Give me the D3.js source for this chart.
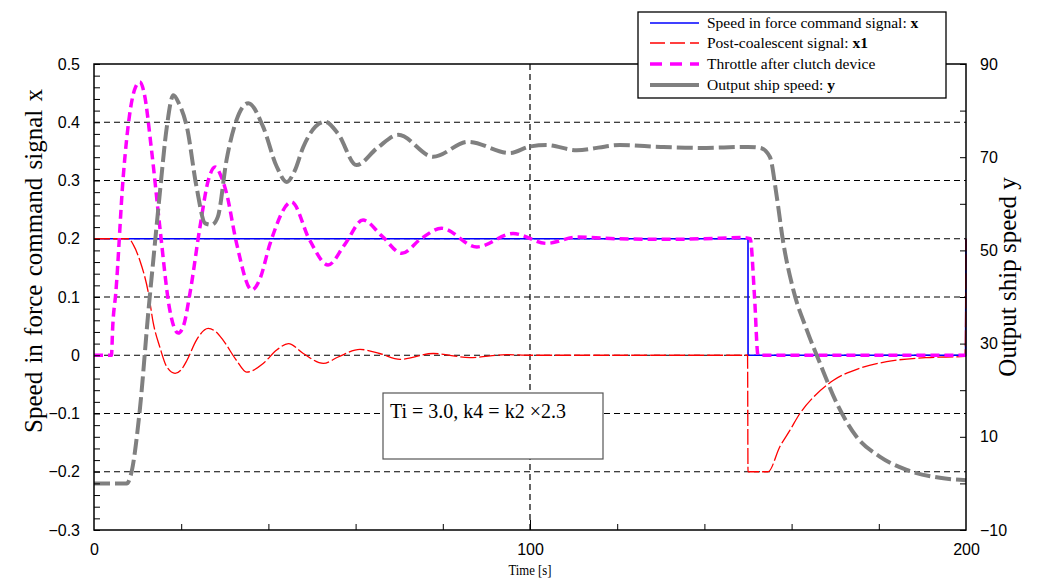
<!DOCTYPE html>
<html><head><meta charset="utf-8">
<script src="https://cdn.jsdelivr.net/npm/d3@7"></script>
<style>body{margin:0;background:#fff} svg{display:block}</style>
</head><body><svg id="c" width="1047" height="579"></svg>
<script>
// ---- data ----
const xTickLabels = [0, 100, 200];
const leftTickLabels = [-0.3, -0.2, -0.1, 0, 0.1, 0.2, 0.3, 0.4, 0.5];
const rightTickLabels = [-10, 10, 30, 50, 70, 90];
const gridLeft = [-0.2, -0.1, 0, 0.1, 0.2, 0.3, 0.4];
const seriesNames = ["Speed in force command signal: ", "Post-coalescent signal: ", "Throttle after clutch device", "Output ship speed: "];
const seriesBold = ["x", "x1", "", "y"];
const annotation = "Ti = 3.0, k4 = k2 \u00d72.3";

// Speed in force command signal x  [t, value] (left axis)
const cmdX = [[0,0.2],[150,0.2],[150.01,0],[199.9,0],[200,0.2]];
// Post-coalescent signal x1 (left axis)
const postX1 = [[0,0.2],[7.9,0.2],[9,0.19],[10.5,0.163],[12.5,0.106],[13.6,0.055],[15.1,0.014],[16.7,-0.02],[18.6,-0.031],[20,-0.025],[21.3,-0.009],[23.5,0.026],[26.2,0.046],[28,0.04],[29.6,0.026],[32.7,-0.009],[35,-0.029],[38.8,-0.014],[41.9,0.009],[44.6,0.02],[48,0.003],[52.6,-0.014],[56,-0.003],[61,0.01],[65.5,0.003],[70.2,-0.007],[77.8,0.003],[86.2,-0.004],[94.6,0.001],[100,0],[149.9,0],[150,-0.2],[154.6,-0.2],[157.3,-0.157],[159.6,-0.129],[161.9,-0.1],[165,-0.072],[169.6,-0.043],[175.7,-0.022],[181.8,-0.011],[191,-0.004],[199.8,-0.002],[200,0.2]];
// Throttle after clutch device (left axis)
const throttle = [[0,0],[4,0],[4.3,0.05],[5,0.107],[6.7,0.306],[8.3,0.42],[9.5,0.46],[10.5,0.469],[11.5,0.45],[13.2,0.352],[15.1,0.22],[17.4,0.077],[19.3,0.038],[20.5,0.05],[22,0.106],[24.3,0.22],[26.2,0.30],[27.8,0.323],[29,0.31],[30.4,0.278],[32.7,0.192],[36.2,0.112],[38,0.13],[40.4,0.192],[45.3,0.263],[49.5,0.197],[53.7,0.155],[57.5,0.19],[61.7,0.232],[66,0.205],[70.6,0.175],[75,0.2],[79.7,0.218],[87.8,0.186],[96.1,0.209],[103.8,0.192],[110.8,0.203],[120,0.2],[130,0.199],[140,0.2],[149,0.202],[150.5,0.2],[151.5,0.1],[152.3,0.0],[200,0]];
// Output ship speed y (right axis)
const shipY = [[0,0],[7.5,0],[8.5,2],[10.5,15.7],[12.5,37.2],[13.6,47.9],[15.1,62.3],[16.7,76.5],[18.2,83.3],[19.5,81.5],[21.3,76.5],[23.5,63.7],[25.5,55.8],[27,55.5],[28.4,57.2],[30.4,69.4],[32.7,78],[35.4,81.6],[38.8,76.5],[41.9,68],[44.2,64.7],[46,67],[48,72.2],[53,77.6],[56,75],[60.2,68.3],[65,72],[69.8,74.8],[77.8,70.1],[85.8,73.3],[95.4,70.9],[100,72.3],[103.8,72.6],[110.7,71.5],[120.6,72.6],[130,72.2],[139,72],[150,72.2],[152.8,72],[155,70.1],[156.6,61.5],[158,52.2],[160.4,41.5],[163.5,32.9],[166.5,25.8],[170.3,17.3],[174.9,10],[180.3,5.7],[186.4,2.9],[194,1.2],[200,0.7]];

// ---- chart ----
const svg = d3.select("#c");
const L = 94, R = 966, T = 64, B = 530;
const x = d3.scaleLinear().domain([0, 200]).range([L, R]);
const yL = d3.scaleLinear().domain([-0.3, 0.5]).range([B, T]);
const yR = d3.scaleLinear().domain([-10, 90]).range([B, T]);
const tickFont = "'Liberation Sans', Arial, sans-serif";
const serif = "'Liberation Serif', 'Times New Roman', serif";

// grid
svg.append("g").selectAll("line").data(gridLeft).join("line")
  .attr("x1", L).attr("x2", R).attr("y1", d => yL(d)).attr("y2", d => yL(d))
  .attr("stroke", "#000").attr("stroke-width", 1.2).attr("stroke-dasharray", "6,4");
svg.append("line").attr("x1", x(100)).attr("x2", x(100)).attr("y1", T).attr("y2", B)
  .attr("stroke", "#000").attr("stroke-width", 1.2).attr("stroke-dasharray", "6,4");

// series
const curve = d3.curveMonotoneX;
const lineL = d3.line().x(d => x(d[0])).y(d => yL(d[1])).curve(curve);
const lineR = d3.line().x(d => x(d[0])).y(d => yR(d[1])).curve(curve);
const lineStep = d3.line().x(d => x(d[0])).y(d => yL(d[1]));
svg.append("path").attr("d", lineStep(cmdX)).attr("fill", "none").attr("stroke", "#0000ff").attr("stroke-width", 1.6);
svg.append("path").attr("d", lineL(postX1)).attr("fill", "none").attr("stroke", "#ff0000").attr("stroke-width", 1.3).attr("stroke-dasharray", "16,3");
svg.append("path").attr("d", lineL(throttle)).attr("fill", "none").attr("stroke", "#ff00ff").attr("stroke-width", 3.5).attr("stroke-dasharray", "9,5");
svg.append("path").attr("d", lineR(shipY)).attr("fill", "none").attr("stroke", "#808080").attr("stroke-width", 4).attr("stroke-dasharray", "16,5");

// frame
svg.append("rect").attr("x", L).attr("y", T).attr("width", R - L).attr("height", B - T)
  .attr("fill", "none").attr("stroke", "#000").attr("stroke-width", 1.5);

// left axis: minor ticks inward + labels
svg.append("g").attr("transform", `translate(${L},0)`)
  .call(d3.axisRight(yL).tickValues(d3.range(-30, 51, 2).map(v => v / 100)).tickSize(6).tickFormat(""))
  .call(g => g.select(".domain").remove());
svg.append("g").attr("transform", `translate(${L},0)`)
  .call(d3.axisLeft(yL).tickValues(leftTickLabels).tickSize(0).tickPadding(14).tickFormat(d => d3.format("")(d).replace("-", "\u2212")))
  .call(g => g.select(".domain").remove())
  .selectAll("text").attr("font-family", tickFont).attr("font-size", 16).attr("fill", "#000");

// right axis
svg.append("g").attr("transform", `translate(${R},0)`)
  .call(d3.axisLeft(yR).tickValues(d3.range(-10, 91, 10)).tickSize(6).tickFormat(""))
  .call(g => g.select(".domain").remove());
svg.append("g").attr("transform", `translate(${R},0)`)
  .call(d3.axisRight(yR).tickValues(rightTickLabels).tickSize(0).tickPadding(14).tickFormat(d => String(d).replace("-", "\u2212")))
  .call(g => g.select(".domain").remove())
  .selectAll("text").attr("font-family", tickFont).attr("font-size", 16).attr("fill", "#000");

// bottom axis
svg.append("g").attr("transform", `translate(0,${B})`)
  .call(d3.axisTop(x).tickValues(d3.range(20, 200, 20)).tickSize(6).tickFormat(""))
  .call(g => g.select(".domain").remove())
  .call(g => g.selectAll(".tick line").filter(d => d === 100).attr("y2", -10));
svg.append("g").attr("transform", `translate(0,${B})`)
  .call(d3.axisBottom(x).tickValues(xTickLabels).tickSize(0).tickPadding(14))
  .call(g => g.select(".domain").remove())
  .selectAll("text").attr("font-family", tickFont).attr("font-size", 16).attr("fill", "#000");

// axis titles
svg.append("text").attr("transform", `translate(${x(100)},575) scale(0.85,1)`).attr("text-anchor", "middle")
  .attr("font-family", serif).attr("font-size", 15).text("Time [s]");
svg.append("text").attr("transform", "translate(42,261) rotate(-90)").attr("text-anchor", "middle")
  .attr("font-family", serif).attr("font-size", 25).attr("word-spacing", 2).text("Speed in force command  signal  x");
svg.append("text").attr("transform", "translate(1016,277) rotate(-90)").attr("text-anchor", "middle")
  .attr("font-family", serif).attr("font-size", 25).text("Output ship speed  y");

// annotation box
svg.append("rect").attr("x", 383).attr("y", 393).attr("width", 220).attr("height", 66)
  .attr("fill", "#fff").attr("stroke", "#555").attr("stroke-width", 1.2);
svg.append("text").attr("x", 390).attr("y", 418).attr("font-family", serif).attr("font-size", 20).text(annotation);

// legend
const lg = svg.append("g");
lg.append("rect").attr("x", 638).attr("y", 12).attr("width", 308).attr("height", 86)
  .attr("fill", "#fff").attr("stroke", "#000").attr("stroke-width", 1.3);
const legStyles = [
  {c: "#0000ff", w: 1.6, d: null},
  {c: "#ff0000", w: 1.3, d: "15,5"},
  {c: "#ff00ff", w: 3.5, d: "12,8"},
  {c: "#808080", w: 4, d: null}
];
const legY = [23, 43, 64, 85];
seriesNames.forEach((n, i) => {
  lg.append("line").attr("x1", 650).attr("x2", 699).attr("y1", legY[i]).attr("y2", legY[i])
    .attr("stroke", legStyles[i].c).attr("stroke-width", legStyles[i].w)
    .attr("stroke-dasharray", legStyles[i].d);
  const t = lg.append("text").attr("x", 707).attr("y", legY[i] + 5)
    .attr("font-family", serif).attr("font-size", 15.5);
  t.append("tspan").text(n);
  if (seriesBold[i]) t.append("tspan").attr("font-weight", "bold").text(" " + seriesBold[i]);
});
</script></body></html>
